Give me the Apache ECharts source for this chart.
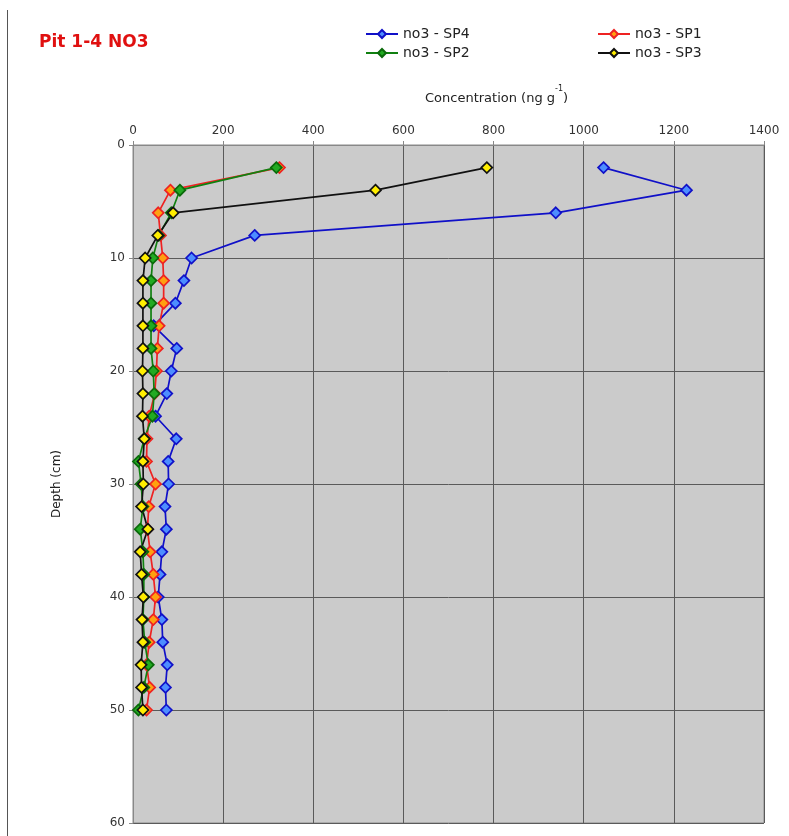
<!DOCTYPE html>
<html>
<head>
<meta charset="utf-8">
<script src="https://cdn.jsdelivr.net/npm/echarts@6/dist/echarts.min.js"></script>
<style>html,body{margin:0;padding:0;background:#fff;}#c{width:789px;height:836px;}</style>
</head>
<body>
<div id="c"></div>
<script>
var depths = [2,4,6,8,10,12,14,16,18,20,22,24,26,28,30,32,34,36,38,40,42,44,46,48,50];
var sp4 = [1044,1228,938,270,130,113,94,46,97,85,75,50,96,78,79,71,74,64,60,56,64,66,76,72,74];
var sp1 = [325,83,56,61,66,68,68,58,54,52,48,36,31,30,50,35,32,38,45,50,45,36,30,37,30];
var sp2 = [318,104,85,57,44,40,40,40,40,45,47,43,25,12,18,22,16,22,24,24,22,26,34,24,12];
var sp3 = [785,538,89,55,27,22,22,22,22,21,22,21,25,22,23,19,33,16,19,23,20,22,18,19,22];
var xTicks = [0,200,400,600,800,1000,1200,1400];
var yTicks = [0,10,20,30,40,50,60];

function pairs(vals){ return vals.map(function(v,i){ return [v, depths[i]]; }); }

var F = 'DejaVu Sans, Verdana, sans-serif';
function mk(name, line, fill, border){
  return {
    name: name, type: 'line', data: [],
    symbol: 'diamond', symbolSize: 11,
    lineStyle: {color: line, width: 1.7},
    itemStyle: {color: fill, borderColor: border, borderWidth: 1.7},
    emphasis: {disabled: true},
    animation: false
  };
}
var s4 = mk('no3 - SP4', '#1010c8', '#4d8dff', '#1010c8'); s4.data = pairs(sp4);
var s1 = mk('no3 - SP1', '#ee2222', '#ffa010', '#ee2222'); s1.data = pairs(sp1);
var s2 = mk('no3 - SP2', '#108010', '#22aa22', '#0a6a0a'); s2.data = pairs(sp2);
var s3 = mk('no3 - SP3', '#111111', '#ffee00', '#111111'); s3.data = pairs(sp3);

var chart = echarts.init(document.getElementById('c'), null, {renderer: 'canvas'});
chart.setOption({
  backgroundColor: '#ffffff',
  animation: false,
  title: [
    {text: 'Pit 1-4 NO3', left: 34, top: 29, textStyle: {color: '#e01010', fontFamily: F, fontWeight: 'bold', fontSize: 17}},
    {text: '{a|Concentration (ng g}{s|-1}{a|)}', left: 420, top: 80,
     textStyle: {fontWeight: 'normal', rich: {
       a: {fontFamily: F, fontSize: 13, fontWeight: 'normal', color: '#222', verticalAlign: 'bottom', lineHeight: 20},
       s: {fontFamily: F, fontSize: 8, fontWeight: 'normal', color: '#222', verticalAlign: 'top', lineHeight: 14}
     }}}
  ],
  legend: [
    {data: ['no3 - SP4', 'no3 - SP2'], orient: 'vertical', left: 360, top: 22, itemWidth: 32, itemHeight: 10, itemGap: 5,
     textStyle: {fontFamily: F, fontSize: 14, color: '#222'}},
    {data: ['no3 - SP1', 'no3 - SP3'], orient: 'vertical', left: 592, top: 22, itemWidth: 32, itemHeight: 10, itemGap: 5,
     textStyle: {fontFamily: F, fontSize: 14, color: '#222'}}
  ],
  grid: {left: 133, top: 145, right: 25, bottom: 13, show: true, backgroundColor: '#cbcbcb', borderColor: '#8a8a8a', borderWidth: 1},
  xAxis: {
    type: 'value', position: 'top', min: xTicks[0], max: xTicks[xTicks.length-1], interval: 200,
    axisLine: {show: true, onZero: false, lineStyle: {color: '#888'}},
    axisTick: {show: true, length: 4, lineStyle: {color: '#888'}},
    axisLabel: {fontFamily: F, fontSize: 12, color: '#333', margin: 8, formatter: function(v){ return String(v); }},
    splitLine: {show: true, lineStyle: {color: '#5a5a5a', width: 1}}
  },
  yAxis: {
    type: 'value', inverse: true, min: yTicks[0], max: yTicks[yTicks.length-1], interval: 10,
    name: 'Depth (cm)', nameLocation: 'middle', nameGap: 70, nameRotate: 90,
    nameTextStyle: {fontFamily: F, fontSize: 12, color: '#222'},
    axisLine: {show: true, onZero: false, lineStyle: {color: '#888'}},
    axisTick: {show: true, length: 4, lineStyle: {color: '#888'}},
    axisLabel: {fontFamily: F, fontSize: 12, color: '#333', margin: 8, formatter: function(v){ return String(v); }},
    splitLine: {show: true, lineStyle: {color: '#5a5a5a', width: 1}}
  },
  graphic: [
    {type: 'line', shape: {x1: 7.5, y1: 10, x2: 7.5, y2: 836}, style: {stroke: '#555', lineWidth: 1}}
  ],
  series: [s4, s1, s2, s3]
});
</script>
</body>
</html>
